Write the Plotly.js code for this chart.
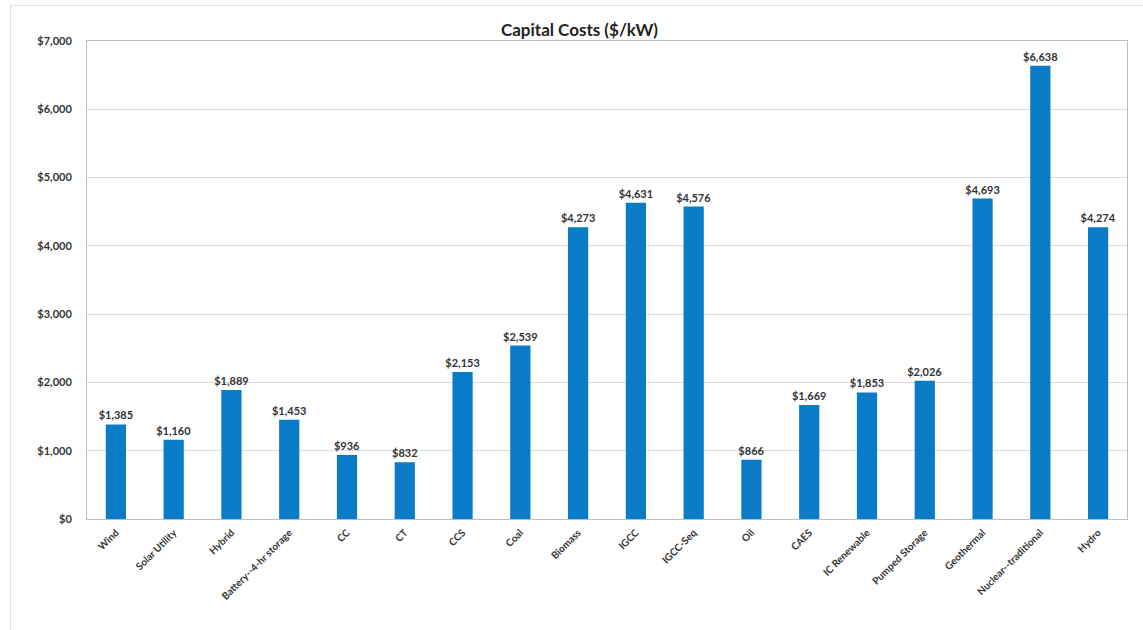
<!DOCTYPE html>
<html><head><meta charset="utf-8">
<script src="https://cdn.plot.ly/plotly-3.0.1.min.js"></script>
<style>html,body{margin:0;padding:0;background:#fff;}#frame{position:absolute;left:10px;top:5px;width:1132px;height:640px;border:1px solid #e4e4e4;pointer-events:none;}#chart{width:1143px;height:630px;}</style>
</head><body>
<div id="chart"></div><div id="frame"></div>
<script>
const categories = ["Wind","Solar Utility","Hybrid","Battery--4-hr storage","CC","CT","CCS","Coal","Biomass","IGCC","IGCC-Seq","Oil","CAES","IC Renewable","Pumped Storage","Geothermal","Nuclear--traditional","Hydro"];
const costs = [1385,1160,1889,1453,936,832,2153,2539,4273,4631,4576,866,1669,1853,2026,4693,6638,4274];
const yTicks = [0,1000,2000,3000,4000,5000,6000,7000];
const yTickText = yTicks.map(v => "$" + v.toLocaleString("en-US"));

const trace = {
  type: "bar",
  x: categories,
  y: costs,
  marker: {color: "#0a7bc7"},
  text: costs.map(v => "$" + v.toLocaleString("en-US")),
  textposition: "outside",
  constraintext: "none",
  cliponaxis: false,
  textfont: {family: "Lato, sans-serif", size: 11, color: "#333", weight: "bold"},
  hoverinfo: "x+y"
};
const layout = {
  width: 1143, height: 630,
  margin: {l: 87, r: 16, t: 41, b: 111},
  paper_bgcolor: "rgba(0,0,0,0)", plot_bgcolor: "#fff",
  bargap: 0.65,
  showlegend: false,
  title: {text: "Capital Costs ($/kW)", x: 0.507, xanchor: "center", y: 0.953, yanchor: "middle",
          font: {family: "Lato, sans-serif", size: 17, color: "#222", weight: "bold"}},
  xaxis: {type: "category", tickangle: -45, showline: true, mirror: true, linecolor: "#bdbdbd", linewidth: 1,
          ticks: "", ticklabelstandoff: 3,
          tickfont: {family: "Lato, sans-serif", size: 10, color: "#333", weight: "bold"}, fixedrange: true},
  yaxis: {range: [0, 7000], tickvals: yTicks, ticktext: yTickText, showgrid: true, gridcolor: "#dcdcdc",
          showline: true, mirror: true, linecolor: "#bdbdbd", linewidth: 1, zeroline: false, ticks: "",
          ticklabelstandoff: 12,
          tickfont: {family: "Lato, sans-serif", size: 11, color: "#333", weight: "bold"}, fixedrange: true}
};
Plotly.newPlot("chart", [trace], layout, {displayModeBar: false, staticPlot: true});
</script>
</body></html>
